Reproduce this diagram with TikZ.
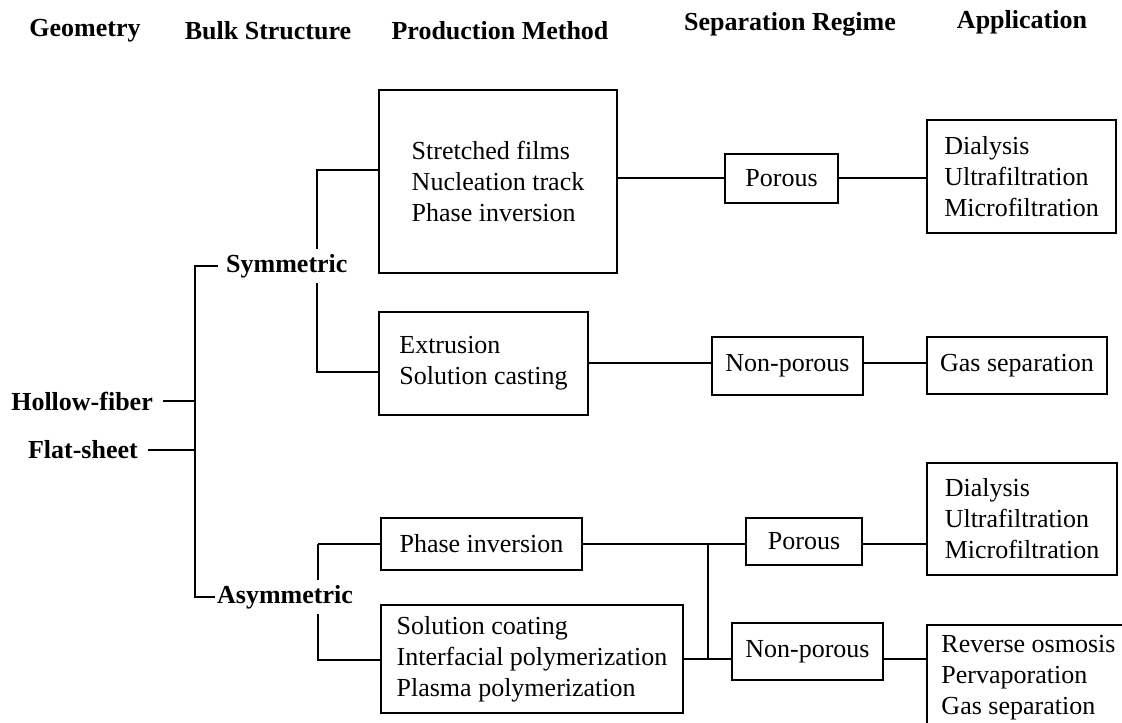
\documentclass[tikz,border=0pt]{standalone}
\usepackage{fontspec}
\setmainfont{Liberation Serif}
\usetikzlibrary{positioning, backgrounds}
\newcommand{\figfont}{\fontsize{26}{31}\selectfont}
\tikzset{
	hdr/.style={font=\figfont\bfseries},
	lbl/.style={font=\figfont\bfseries, fill=white, inner xsep=2pt, inner ysep=5pt},
	blk/.style={rectangle, draw=black, line width=1.6pt, align=left, inner sep=0pt},
	wire/.style={line width=1.6pt},
}

\begin{document}
\begin{tikzpicture}[x=1pt, y=-1pt, font=\figfont]
	\useasboundingbox (0,0) rectangle (1122,723);
	% column headings
	\node[hdr] (hGeo)  at (85,31)   {Geometry};
	\node[hdr] (hBulk) at (268,31)  {Bulk Structure};
	\node[hdr] (hProd) at (500,31)  {Production Method};
	\node[hdr] (hSep)  at (790,24)  {Separation Regime};
	\node[hdr] (hApp)  at (1022,22) {Application};
	% geometry / bulk structure
	\node[lbl, anchor=east, inner xsep=10pt] (hollow) at (163,401) {Hollow-fiber};
	\node[lbl, anchor=east, inner xsep=10pt] (flat)   at (148,450) {Flat-sheet};
	\node[lbl, anchor=west, inner xsep=8pt] (sym) at (218,266) {Symmetric};
	\node[lbl, anchor=west] (asym) at (215,597) {Asymmetric};
	\coordinate (bulk) at (195,400);
	% production method
	\node[blk, minimum width=238pt, minimum height=183pt] (pStretch) at (498,181.5) {Stretched films\\Nucleation track\\Phase inversion};
	\node[blk, minimum width=209pt, minimum height=103pt] (pExtr) at (483.5,363.5) {Extrusion\\Solution casting};
	\node[blk, minimum width=201pt, minimum height=52pt] (pPhase) at (481.5,544) {Phase inversion};
	\node[blk, minimum width=302pt, minimum height=108pt] (pCoat) at (532,659) {Solution coating\\Interfacial polymerization\\Plasma polymerization};
	% separation regime
	\node[blk, minimum width=113pt, minimum height=49pt] (sPor1) at (781.5,178.5) {Porous};
	\node[blk, minimum width=151pt, minimum height=58pt] (sNon1) at (787.5,366) {Non-porous};
	\node[blk, minimum width=116pt, minimum height=47pt] (sPor2) at (804,541.5) {Porous};
	\node[blk, minimum width=151pt, minimum height=57pt] (sNon2) at (807.5,651.5) {Non-porous};
	% application
	\node[blk, minimum width=189pt, minimum height=113pt] (aPor1) at (1021.5,176.5) {Dialysis\\Ultrafiltration\\Microfiltration};
	\node[blk, minimum width=180pt, minimum height=57pt] (aGas) at (1017,365.5) {Gas separation};
	\node[blk, minimum width=190pt, minimum height=112pt] (aPor2) at (1022,519) {Dialysis\\Ultrafiltration\\Microfiltration};
	\node[blk, minimum width=203pt, minimum height=106pt] (aNon2) at (1028.5,678) {Reverse osmosis\\Pervaporation\\Gas separation};
	\coordinate (symT) at (317,170);
	\coordinate (symB) at (317,372);
	\coordinate (asymT) at (318,544);
	\coordinate (asymB) at (318,660);
	\coordinate (jn) at (708,544);
	\coordinate (row1) at (0,178);
	\begin{scope}[on background layer]
		\draw[wire] (hollow.east) -- (hollow.east -| bulk);
		\draw[wire] (flat.east) -- (flat.east -| bulk);
		\draw[wire] (sym.west) -- (sym.west -| bulk) -- (asym.west -| bulk) -- (asym.west);
		\draw[wire] (pStretch.west |- symT) -- (symT) -- (symB) -- (pExtr.west |- symB);
		\draw[wire] (pPhase.west -| asymT) -- (asymB) -- (pCoat.west |- asymB);
		\draw[wire] (pPhase.west) -- (pPhase.west -| asymT);
		\draw[wire] (pStretch.east |- row1) -- (sPor1.west |- row1);
		\draw[wire] (sPor1.east |- row1) -- (aPor1.west |- row1);
		\draw[wire] (pExtr.east |- 0,363) -- (sNon1.west |- 0,363);
		\draw[wire] (sNon1.east |- 0,363) -- (aGas.west |- 0,363);
		\draw[wire] (pPhase.east) -- (pPhase.east -| sPor2.west);
		\draw[wire] (sPor2.east |- jn) -- (jn -| aPor2.west);
		\draw[wire] (jn) -- (jn |- pCoat.east);
		\draw[wire] (pCoat.east) -- (pCoat.east -| sNon2.west);
		\draw[wire] (sNon2.east |- pCoat.east) -- (pCoat.east -| aNon2.west);
	\end{scope}
\end{tikzpicture}
\end{document}
